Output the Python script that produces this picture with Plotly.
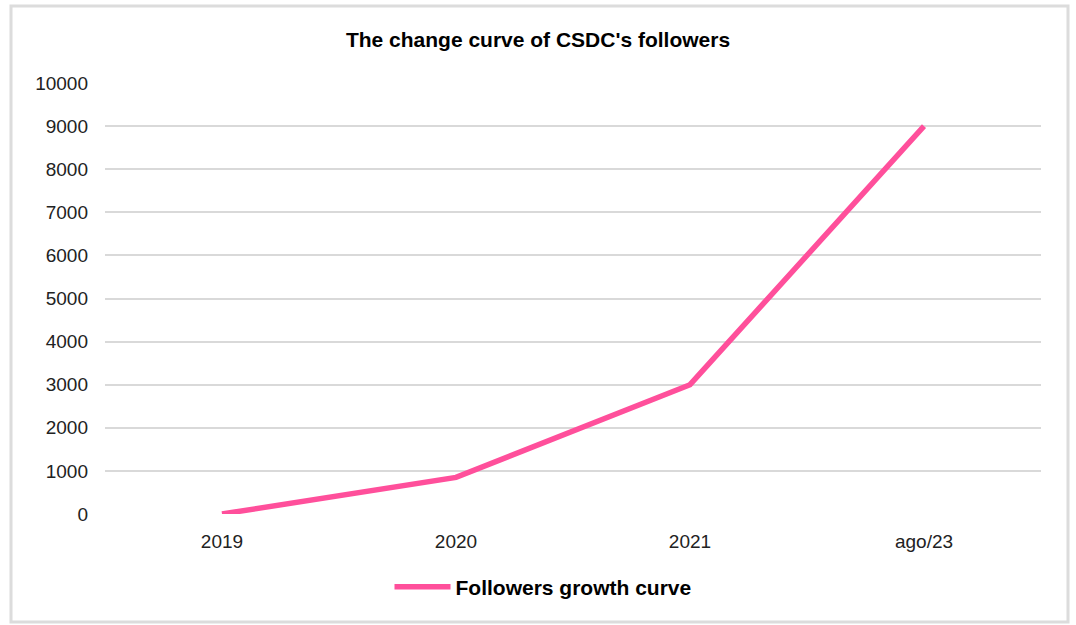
import plotly.graph_objects as go

categories = ["2019", "2020", "2021", "ago/23"]
followers = [0, 850, 3000, 9000]
y_ticks = [0, 1000, 2000, 3000, 4000, 5000, 6000, 7000, 8000, 9000, 10000]
y_ticklabels = [str(v) for v in y_ticks]
series_name = "Followers growth curve"
title_text = "The change curve of CSDC's followers"

W, H = 1076, 625
L, R, T, B = 105, 35, 83, 111
pw, ph = W - L - R, H - T - B

def px_to_paper_x(x):
    return (x - L) / pw

def px_to_paper_y(y):
    return (H - B - y) / ph

fig = go.Figure()
fig.add_trace(go.Scatter(
    x=categories, y=followers, mode="lines", name="<b>" + series_name + "</b>",
    line=dict(color="#FF4F9B", width=5.5),
))

fig.update_layout(
    width=W, height=H,
    margin=dict(l=L, r=R, t=T, b=B),
    paper_bgcolor="white", plot_bgcolor="white",
    font=dict(family="Liberation Sans, Arial, sans-serif", size=19, color="#222222"),
    title=dict(text="<b>" + title_text + "</b>", x=0.5, xanchor="center",
               y=1 - 40 / H, yanchor="middle",
               font=dict(size=21, color="#000000")),
    showlegend=True,
    legend=dict(orientation="h", x=px_to_paper_x(543), xanchor="center",
                y=px_to_paper_y(587), yanchor="middle",
                font=dict(size=21, color="#000000"), itemwidth=56),
    xaxis=dict(type="category", showgrid=False, showline=False, ticks="",
               ticklabelstandoff=14,
               tickfont=dict(size=19, color="#222222"), range=[-0.5, 3.5]),
    yaxis=dict(range=[0, 10000], tickvals=y_ticks, ticktext=y_ticklabels,
               showgrid=True, gridcolor="#d9d9d9", gridwidth=2, zeroline=False,
               showline=False, ticks="", ticklabelstandoff=16,
               tickfont=dict(size=19, color="#222222")),
)

fig.add_shape(type="rect", xref="paper", yref="paper",
              x0=px_to_paper_x(11), x1=px_to_paper_x(1068),
              y0=px_to_paper_y(622), y1=px_to_paper_y(6),
              line=dict(color="#dcdcdc", width=3), layer="below")

fig.write_html("out.html")
